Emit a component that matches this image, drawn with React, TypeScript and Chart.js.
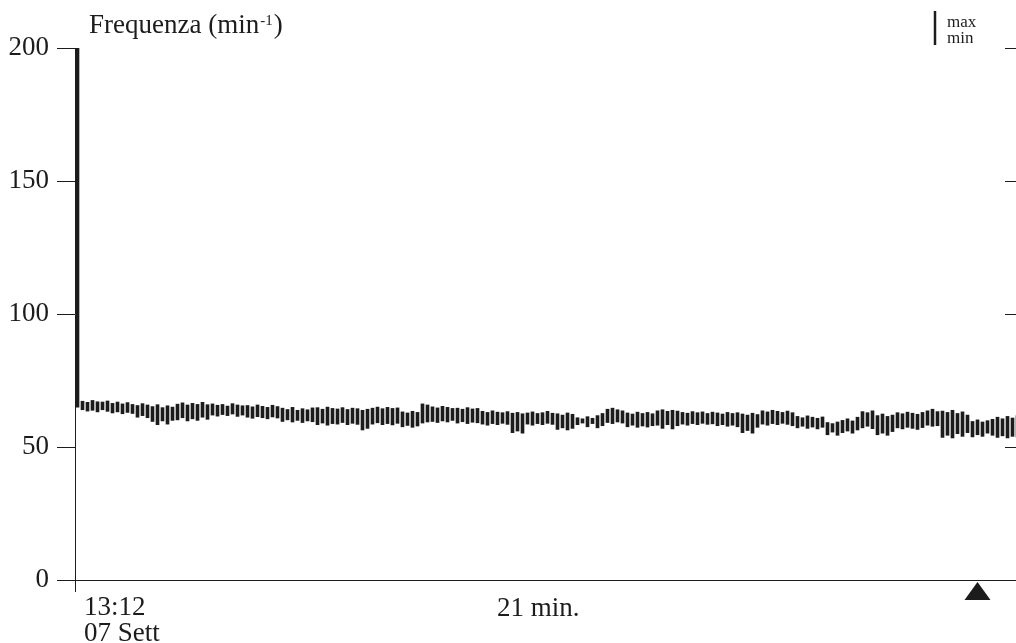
import React, { useEffect, useRef } from "react";
import { Chart, registerables } from "chart.js";

Chart.register(...registerables);

// Heart-rate (min⁻¹) per time slot: upper and lower limits of each bar
const maxVals: number[] = [
  200,
  67.2, 66.8, 67.5, 67.0, 66.9, 67.3,
  66.4, 66.9, 66.2, 66.7, 66.0,
  65.6, 66.3, 65.8,
  65.2, 65.9, 64.8, 65.5, 65.0,
  66.1, 66.6, 65.8, 66.4, 66.0, 66.8, 65.9,
  66.2, 65.7, 66.0, 65.4, 66.3, 65.8, 65.5,
  65.6, 65.1, 65.8, 65.3, 64.9, 65.7, 65.2,
  64.6, 64.1, 64.9, 63.8, 64.4, 64.0, 64.7,
  64.8, 64.2, 65.0, 64.5,
  64.3, 64.8, 64.1, 64.6, 64.4,
  63.8, 64.2,
  64.6, 65.0, 64.4, 64.9, 64.5, 64.7,
  63.2, 62.8, 63.4, 63.0,
  66.2, 65.8,
  65.1, 64.7, 65.3, 64.9, 64.5,
  64.6, 64.2, 64.8, 64.3, 64.5,
  63.4, 63.0, 63.6, 63.1, 62.9, 63.3,
  62.7, 63.0, 62.5,
  62.8, 63.2, 62.6, 62.9, 63.4, 62.7,
  62.5, 62.0, 62.8, 62.3,
  61.0, 60.6, 61.4, 60.8, 61.8, 62.6,
  64.2, 64.6, 64.0, 63.6,
  62.8, 62.4, 63.1, 62.6, 63.0, 62.5,
  63.6, 64.0, 63.4, 63.8, 63.5,
  63.0, 62.7, 63.3, 62.9, 63.2, 62.6, 63.1,
  62.8, 62.4, 63.0, 62.6, 62.9,
  62.4, 62.0, 62.7, 62.2,
  63.6, 63.2, 63.8, 63.4, 63.0, 63.5, 62.9,
  61.5, 61.0, 61.7, 61.2, 60.8, 61.3,
  59.2, 58.8, 59.4,
  60.0, 60.6, 59.8, 61.2,
  63.3, 62.9, 63.6,
  61.8, 62.4, 61.5, 62.0,
  62.9, 62.5, 63.1, 62.7, 62.3, 63.0,
  63.6, 64.2, 63.3,
  63.5, 63.0, 63.8, 62.6, 63.2, 62.0,
  59.6, 60.2, 59.4, 59.9, 60.4,
  61.2, 60.6, 61.5, 60.9, 61.8,
];

const minVals: number[] = [
  65,
  64.0, 63.5, 63.8, 63.2, 64.0, 63.4,
  62.8, 63.2, 62.5, 63.0, 62.6,
  61.2, 61.8, 61.0,
  59.6, 58.4, 59.8, 58.6, 60.0,
  60.2, 61.0, 59.8, 60.6, 60.0, 61.2, 60.4,
  62.0, 61.6, 62.2, 61.8, 62.4, 61.5, 62.0,
  61.2, 60.8, 61.4, 61.0, 60.6, 61.3, 60.9,
  59.6, 60.2, 59.4, 60.0, 59.2, 59.8, 59.5,
  58.4, 59.0, 58.2, 58.8,
  58.6, 59.2, 58.4, 58.9, 58.5,
  56.4, 57.0,
  58.6, 59.1, 58.4, 58.8, 58.3, 58.9,
  57.6, 58.1, 57.4, 57.9,
  59.0, 59.4,
  59.6, 59.2, 59.8, 59.4, 60.0,
  59.0, 59.5, 58.8, 59.3, 59.1,
  58.6, 58.2, 58.8, 58.4, 58.9, 58.5,
  55.4, 56.0, 55.2,
  58.6, 58.2, 58.8, 58.4, 58.9, 58.5,
  56.6, 57.2, 56.4, 57.0,
  58.4, 59.0, 57.6, 58.8, 57.2, 58.0,
  59.2, 58.8, 59.4, 59.0,
  57.6, 58.2, 57.4, 57.9, 57.5, 58.0,
  58.2, 57.0, 58.4, 56.8, 58.0,
  58.6, 58.2, 58.8, 58.4, 58.9, 58.5, 58.7,
  58.0, 58.4, 57.8, 58.2, 57.6,
  55.4, 56.2, 55.2, 57.4,
  58.6, 58.2, 58.8, 58.4, 58.9, 58.5, 58.0,
  57.2, 57.8, 57.0, 57.5, 56.8, 57.4,
  54.6, 55.6, 54.4,
  55.4, 56.0, 55.2, 56.4,
  57.2, 57.8, 56.9,
  54.6, 55.2, 54.4, 55.8,
  57.2, 56.8, 57.4, 57.0, 56.6, 57.3,
  58.2, 57.8, 58.0,
  53.6, 54.4, 53.4, 55.0, 54.0, 55.4,
  53.8, 54.6, 54.0, 55.2, 54.4,
  53.6, 54.2, 53.4, 54.0, 53.8,
];

const yTicks: number[] = [0, 50, 100, 150, 200];
const titleMain = "Frequenza (min";
const titleSup = "-1";
const startTime = "13:12";
const startDate = "07 Sett";
const durationLabel = "21 min.";
const legendMax = "max";
const legendMin = "min";
const markerIndex = 180;

const INK = "#1c1c1c";
const FONT = '"Liberation Serif", "Times New Roman", serif';

const overlayPlugin = {
  id: "overlay",
  afterDraw(chart: any) {
    const ctx = chart.ctx as CanvasRenderingContext2D;
    const area = chart.chartArea;
    const ys = chart.scales.y;
    const xs = chart.scales.x;
    ctx.save();
    ctx.fillStyle = INK;
    ctx.strokeStyle = INK;
    ctx.textBaseline = "alphabetic";
    ctx.textAlign = "left";

    // title with superscript
    ctx.font = `27px ${FONT}`;
    ctx.fillText(titleMain, 89, 33);
    const w = ctx.measureText(titleMain).width;
    ctx.font = `15px ${FONT}`;
    ctx.fillText(titleSup, 89 + w + 1, 25);
    const ws = ctx.measureText(titleSup).width;
    ctx.font = `27px ${FONT}`;
    ctx.fillText(")", 89 + w + ws + 2, 33);

    // legend
    ctx.lineWidth = 2.5;
    ctx.beginPath();
    ctx.moveTo(935, 11);
    ctx.lineTo(935, 45);
    ctx.stroke();
    ctx.font = `17px ${FONT}`;
    ctx.fillText(legendMax, 947, 27);
    ctx.fillText(legendMin, 947, 43);

    // right inward ticks
    ctx.lineWidth = 1;
    for (const v of yTicks) {
      if (v === 0) continue;
      const py = Math.round(ys.getPixelForValue(v)) + 0.5;
      ctx.beginPath();
      ctx.moveTo(1005, py);
      ctx.lineTo(area.right, py);
      ctx.stroke();
    }

    // x labels
    ctx.font = `27px ${FONT}`;
    ctx.fillText(startTime, 84, 615);
    ctx.fillText(startDate, 84, 641);
    ctx.fillText(durationLabel, 497, 616);

    // marker triangle
    const mx = xs.getPixelForValue(markerIndex);
    ctx.beginPath();
    ctx.moveTo(mx, area.bottom + 2);
    ctx.lineTo(mx + 13, area.bottom + 20);
    ctx.lineTo(mx - 13, area.bottom + 20);
    ctx.closePath();
    ctx.fill();
    ctx.restore();
  },
};

export default function App() {
  const ref = useRef<HTMLCanvasElement | null>(null);

  useEffect(() => {
    document.body.style.margin = "0";
    document.body.style.overflow = "hidden";
    const canvas = ref.current;
    if (!canvas) return;
    const data = maxVals.map((mx, i) => ({ x: i, y: [minVals[i], mx] }));
    const chart = new Chart(canvas, {
      type: "bar",
      data: {
        datasets: [
          {
            data: data as any,
            backgroundColor: INK,
            borderWidth: 0,
            barThickness: 3,
          },
        ],
      },
      options: {
        animation: false,
        responsive: false,
        devicePixelRatio: 1,
        layout: { padding: { top: 48, right: 16, left: 0, bottom: 0 } },
        plugins: {
          legend: { display: false },
          tooltip: { enabled: false },
        },
        scales: {
          x: {
            type: "linear",
            offset: false,
            min: -0.5,
            max: 189.3,
            afterBuildTicks: (scale: any) => {
              scale.ticks = [{ value: -0.5 }];
            },
            afterFit: (scale: any) => {
              scale.height = 63;
            },
            ticks: { display: false },
            grid: {
              offset: false,
              drawOnChartArea: false,
              tickLength: 12,
              color: INK,
              lineWidth: 1,
            },
            border: { display: true, color: INK, width: 1 },
          },
          y: {
            type: "linear",
            min: 0,
            max: 200,
            afterBuildTicks: (scale: any) => {
              scale.ticks = yTicks.map((v) => ({ value: v }));
            },
            afterFit: (scale: any) => {
              scale.width = 75;
            },
            ticks: {
              color: INK,
              padding: 8,
              font: { family: FONT, size: 27 },
            },
            grid: {
              drawOnChartArea: false,
              tickLength: 18,
              color: INK,
              lineWidth: 1,
            },
            border: { display: true, color: INK, width: 1 },
          },
        },
      },
      plugins: [overlayPlugin],
    });
    return () => chart.destroy();
  }, []);

  return (
    <div style={{ width: 1016, height: 643, overflow: "hidden", position: "relative" }}>
      <canvas ref={ref} width={1040} height={643} style={{ display: "block" }} />
    </div>
  );
}
